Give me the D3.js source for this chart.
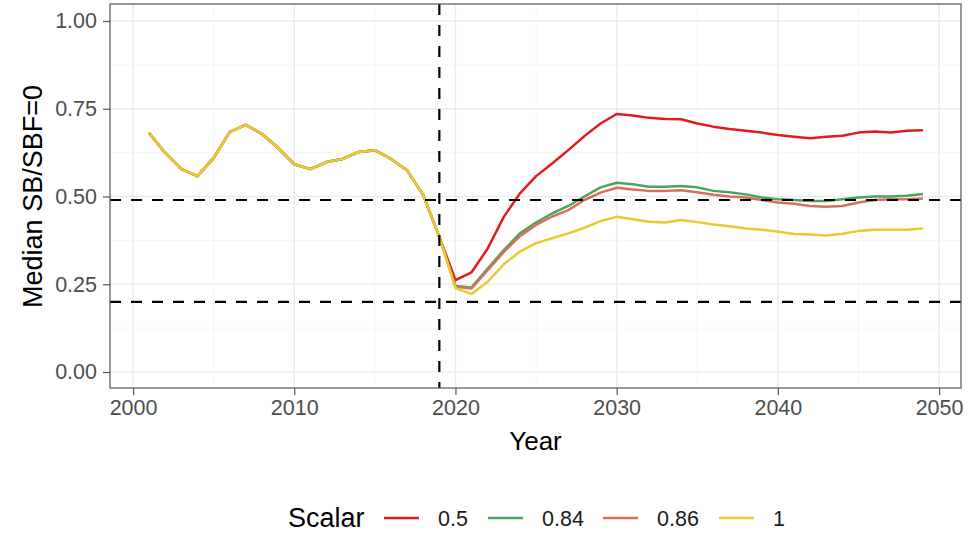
<!DOCTYPE html>
<html>
<head>
<meta charset="utf-8">
<script src="https://cdn.jsdelivr.net/npm/d3@7"></script>
<style>
body { margin: 0; background: #fff; }
text { font-family: "Liberation Sans", Arial, sans-serif; }
</style>
</head>
<body>
<div id="chart"></div>
<script>
// data
var years = d3.range(2001, 2050);
var scalars = ["0.5", "0.84", "0.86", "1"];
var histVals = [0.681, 0.624, 0.578, 0.558, 0.61, 0.684, 0.704, 0.678, 0.638, 0.592,
  0.578, 0.598, 0.607, 0.627, 0.632, 0.607, 0.575, 0.504, 0.385];
var proj05 = [0.262, 0.284, 0.352, 0.442, 0.509, 0.558, 0.594, 0.632, 0.672, 0.708,
  0.735, 0.731, 0.724, 0.721, 0.72, 0.708, 0.699, 0.692, 0.687, 0.682,
  0.675, 0.67, 0.666, 0.67, 0.673, 0.682, 0.685, 0.682, 0.687, 0.689];
var proj084 = [0.245, 0.241, 0.295, 0.347, 0.395, 0.426, 0.452, 0.473, 0.5, 0.526,
  0.539, 0.535, 0.528, 0.528, 0.53, 0.526, 0.516, 0.512, 0.506, 0.497,
  0.492, 0.49, 0.487, 0.487, 0.492, 0.497, 0.5, 0.5, 0.502, 0.507];
var proj086 = [0.243, 0.238, 0.29, 0.342, 0.387, 0.419, 0.443, 0.461, 0.49, 0.511,
  0.525, 0.52, 0.516, 0.516, 0.518, 0.512, 0.505, 0.5, 0.497, 0.49,
  0.483, 0.479, 0.473, 0.471, 0.473, 0.483, 0.49, 0.492, 0.492, 0.494];
var proj1 = [0.239, 0.222, 0.257, 0.307, 0.343, 0.367, 0.381, 0.395, 0.411, 0.43,
  0.442, 0.435, 0.428, 0.426, 0.433, 0.427, 0.42, 0.415, 0.409, 0.405,
  0.4, 0.393, 0.392, 0.389, 0.394, 0.402, 0.405, 0.405, 0.405, 0.409];
var colors = ["#e41a1c", "#4aa361", "#d6705a", "#e6cc2f"];
var xTicks = [2000, 2010, 2020, 2030, 2040, 2050];
var yTicks = [0, 0.25, 0.5, 0.75, 1];
var hLines = [0.49, 0.2];
var vLine = 2019;

var series = [proj05, proj084, proj086, proj1].map(function(p, i) {
  var vals = histVals.concat(p);
  return { name: scalars[i], color: colors[i],
    values: years.map(function(y, j) { return { year: y, v: vals[j] }; }) };
});

var width = 979, height = 534;
var panel = { left: 110, right: 961, top: 4, bottom: 388 };

var svg = d3.select("#chart").append("svg")
  .attr("width", width)
  .attr("height", height);

var x = d3.scaleLinear().domain([1998.57, 2051.36]).range([panel.left, panel.right]);
var y = d3.scaleLinear().domain([-0.0456, 1.0484]).range([panel.bottom, panel.top]);

// grid
var g = svg.append("g");
d3.range(2005, 2051, 10).forEach(function(v) {
  g.append("line").attr("x1", x(v)).attr("x2", x(v)).attr("y1", panel.top).attr("y2", panel.bottom)
    .attr("stroke", "#f4f4f4").attr("stroke-width", 0.8);
});
[0.125, 0.375, 0.625, 0.875].forEach(function(v) {
  g.append("line").attr("x1", panel.left).attr("x2", panel.right).attr("y1", y(v)).attr("y2", y(v))
    .attr("stroke", "#f4f4f4").attr("stroke-width", 0.8);
});
xTicks.forEach(function(v) {
  g.append("line").attr("x1", x(v)).attr("x2", x(v)).attr("y1", panel.top).attr("y2", panel.bottom)
    .attr("stroke", "#ebebeb").attr("stroke-width", 1.5);
});
yTicks.forEach(function(v) {
  g.append("line").attr("x1", panel.left).attr("x2", panel.right).attr("y1", y(v)).attr("y2", y(v))
    .attr("stroke", "#ebebeb").attr("stroke-width", 1.5);
});

// lines
var line = d3.line().x(function(d) { return x(d.year); }).y(function(d) { return y(d.v); });
svg.append("g").selectAll("path").data(series).enter().append("path")
  .attr("d", function(d) { return line(d.values); })
  .attr("fill", "none")
  .attr("stroke", function(d) { return d.color; })
  .attr("stroke-width", 2.5)
  .attr("stroke-linejoin", "round");

// reference lines
hLines.forEach(function(v) {
  svg.append("line").attr("x1", panel.left).attr("x2", panel.right).attr("y1", y(v)).attr("y2", y(v))
    .attr("stroke", "#000").attr("stroke-width", 2.2).attr("stroke-dasharray", "11,10");
});
svg.append("line").attr("x1", x(vLine)).attr("x2", x(vLine)).attr("y1", panel.top).attr("y2", panel.bottom)
  .attr("stroke", "#000").attr("stroke-width", 2.2).attr("stroke-dasharray", "11,10");

// border
svg.append("rect").attr("x", panel.left).attr("y", panel.top)
  .attr("width", panel.right - panel.left).attr("height", panel.bottom - panel.top)
  .attr("fill", "none").attr("stroke", "#555").attr("stroke-width", 1.2);

// axes
var xAxis = svg.append("g").attr("transform", "translate(0," + panel.bottom + ")")
  .call(d3.axisBottom(x).tickValues(xTicks).tickFormat(d3.format("d")).tickSize(7).tickPadding(5));
var yAxis = svg.append("g").attr("transform", "translate(" + panel.left + ",0)")
  .call(d3.axisLeft(y).tickValues(yTicks).tickFormat(d3.format(".2f")).tickSize(7).tickPadding(6));
[xAxis, yAxis].forEach(function(a) {
  a.select(".domain").remove();
  a.selectAll(".tick line").attr("stroke", "#555").attr("stroke-width", 1.2);
  a.selectAll(".tick text").attr("fill", "#4d4d4d").style("font-size", "21.5px");
});

svg.append("text").attr("x", (panel.left + panel.right) / 2).attr("y", 450)
  .attr("text-anchor", "middle").style("font-size", "26px").attr("fill", "#000").text("Year");
svg.append("text").attr("transform", "translate(42," + y(0.5) + ") rotate(-90)")
  .attr("text-anchor", "middle").style("font-size", "27px").attr("fill", "#000").text("Median SB/SBF=0");

// legend
var leg = svg.append("g");
leg.append("text").attr("x", 288).attr("y", 527).style("font-size", "27px").attr("fill", "#000").text("Scalar");
var keyX = [384, 488, 603, 719];
series.forEach(function(s, i) {
  leg.append("line").attr("x1", keyX[i]).attr("x2", keyX[i] + 35).attr("y1", 518).attr("y2", 518)
    .attr("stroke", s.color).attr("stroke-width", 2.5);
  leg.append("text").attr("x", keyX[i] + 54).attr("y", 526).style("font-size", "21.5px")
    .attr("fill", "#1a1a1a").text(s.name);
});
</script>
</body>
</html>
